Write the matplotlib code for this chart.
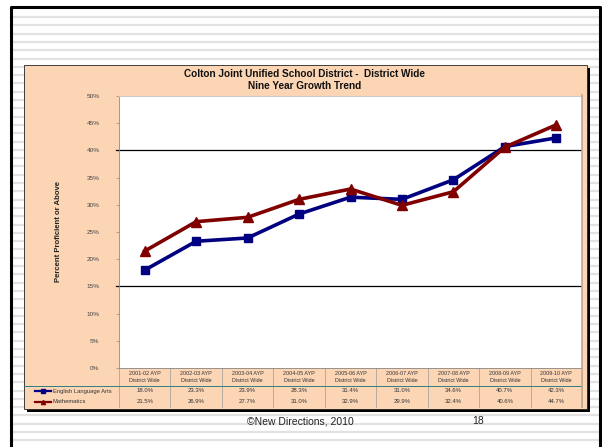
import matplotlib
matplotlib.use("Agg")
import matplotlib.pyplot as plt
from matplotlib.lines import Line2D
from matplotlib.patches import Rectangle
import matplotlib.transforms as mtransforms

plt.rcParams['font.family'] = ['Liberation Sans', 'DejaVu Sans']

# ---- data ----
categories = ["2001-02 AYP\nDistrict Wide", "2002-03 AYP\nDistrict Wide", "2003-04 AYP\nDistrict Wide",
              "2004-05 AYP\nDistrict Wide", "2005-06 AYP\nDistrict Wide", "2006-07 AYP\nDistrict Wide",
              "2007-08 AYP\nDistrict Wide", "2008-09 AYP\nDistrict Wide", "2009-10 AYP\nDistrict Wide"]
ela = [18.0, 23.3, 23.9, 28.3, 31.4, 31.0, 34.6, 40.7, 42.3]
math_vals = [21.5, 26.9, 27.7, 31.0, 32.9, 29.9, 32.4, 40.6, 44.7]
series_names = ["English Language Arts", "Mathematics"]
yticks = [0, 5, 10, 15, 20, 25, 30, 35, 40, 45, 50]
ref_lines = [15, 40]
title = "Colton Joint Unified School District -  District Wide\nNine Year Growth Trend"
ylabel = "Percent Proficient or Above"
footer = "\u00a9New Directions, 2010"
page = "18"

W, H = 602, 447
fig = plt.figure(figsize=(W / 100, H / 100), dpi=100)
fig.patch.set_facecolor("white")

def fx(x):
    return x / W

def fy(y):
    return 1 - y / H

# lined-paper stripes
y = 17
while y < H:
    fig.add_artist(Line2D([fx(11), fx(600)], [fy(y), fy(y)], color="#e2e2e2", lw=1.6, zorder=0))
    y += 8.3

# slide border
fig.add_artist(Line2D([fx(11), fx(11), fx(600), fx(600)], [fy(H + 5), fy(7), fy(7), fy(H + 5)],
                      color="black", lw=2.2, zorder=1))

# chart panel shadow and panel
fig.add_artist(Rectangle((fx(27), fy(412)), fx(590) - fx(27), fy(68) - fy(412),
                         transform=fig.transFigure, facecolor="black", edgecolor="none", zorder=2))
fig.add_artist(Rectangle((fx(24), fy(409)), fx(587) - fx(24), fy(65) - fy(409),
                         transform=fig.transFigure, facecolor="#fcd5b5", edgecolor="#222222",
                         lw=0.6, zorder=3))

# title
fig.text(fx(305), fy(80), title, ha="center", va="center", fontsize=7.2, fontweight="bold",
         color="#111111", linespacing=1.15, zorder=5)

# plot axes
L, R, T, B = 119, 582, 96, 368
ax = fig.add_axes([fx(L), fy(B), fx(R) - fx(L), fy(T) - fy(B)], zorder=4)
ax.set_facecolor("white")
n = len(categories)
x = list(range(n))
ax.set_xlim(-0.5, n - 0.5)
ax.set_ylim(0, 50)

for v in ref_lines:
    ax.axhline(v, color="black", lw=0.9, zorder=1)
    ax.plot([-0.5 - 3 / 51.4, -0.5], [v, v], color="black", lw=0.9, clip_on=False)

ax.plot(x, ela, color="#000080", lw=2.6, marker="s", markersize=6, zorder=3)
ax.plot(x, math_vals, color="#800000", lw=2.6, marker="^", markersize=6.5, zorder=3)

ax.set_yticks(yticks)
ax.set_yticklabels([f"{t}%" for t in yticks], fontsize=4.6, color="#444444")
ax.tick_params(axis="y", length=2, width=0.5, color="#888888", pad=12)
ax.set_xticks([])
for s in ["top", "right"]:
    ax.spines[s].set_color("#cccccc")
for s in ["left", "bottom"]:
    ax.spines[s].set_color("#888888")
    ax.spines[s].set_linewidth(0.6)

fig.text(fx(58), fy(232), ylabel, rotation=90, ha="center", va="center", fontsize=5.6,
         fontweight="bold", color="#222222", zorder=5)

# data table below axes
trans = mtransforms.blended_transform_factory(ax.transData, fig.transFigure)
table_top, head_bot, row1_bot, table_bot = 368, 386, 396, 407
for i in range(n + 1):
    xb = i - 0.5
    ax.plot([xb, xb], [fy(table_top), fy(table_bot)], transform=trans, color="#9a9a9a",
            lw=0.5, clip_on=False)
ax.plot([-0.5, n - 0.5], [fy(head_bot), fy(head_bot)], transform=trans, color="#2f7f7f",
        lw=0.7, clip_on=False)
fig.add_artist(Line2D([fx(24), fx(L)], [fy(head_bot), fy(head_bot)], color="#2f7f7f", lw=0.7, zorder=5))
fig.add_artist(Line2D([fx(R), fx(R)], [fy(95), fy(table_bot)], color="#c4a88a", lw=1.2, zorder=5))

for i, c in enumerate(categories):
    ax.text(i, fy(377), c, transform=trans, ha="center", va="center", fontsize=3.9,
            color="#333333", linespacing=1.3)
    ax.text(i, fy(391), f"{ela[i]:.1f}%", transform=trans, ha="center", va="center",
            fontsize=4.3, color="#333333")
    ax.text(i, fy(401.5), f"{math_vals[i]:.1f}%", transform=trans, ha="center", va="center",
            fontsize=4.3, color="#333333")

# legend keys in table
for yy, col, mk, name in [(391, "#000080", "s", series_names[0]), (401.5, "#800000", "^", series_names[1])]:
    fig.add_artist(Line2D([fx(35), fx(51)], [fy(yy), fy(yy)], color=col, lw=1.6, zorder=6))
    fig.add_artist(Line2D([fx(43)], [fy(yy)], color=col, marker=mk, markersize=3, zorder=6))
    fig.text(fx(53), fy(yy), name, ha="left", va="center", fontsize=4.2, color="#333333", zorder=6)

# footer
fig.text(fx(300), fy(421), footer, ha="center", va="center", fontsize=7.5, color="#222222", zorder=6)
fig.text(fx(478), fy(421), page, ha="center", va="center", fontsize=7.5, color="#222222", zorder=6)

fig.savefig("out.png", dpi=100, facecolor="white")
